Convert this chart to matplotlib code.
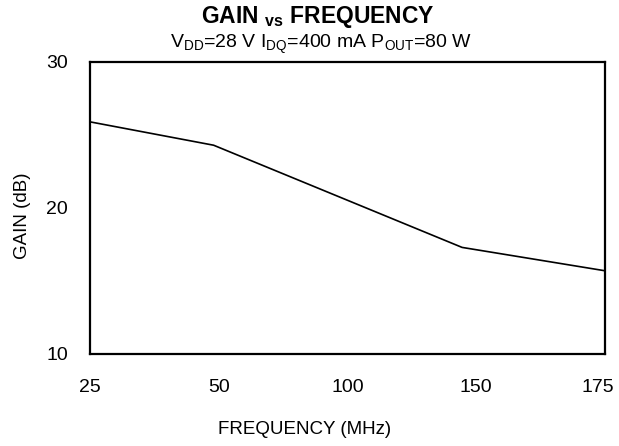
import matplotlib
matplotlib.use("Agg")
import matplotlib.pyplot as plt
from matplotlib.transforms import ScaledTranslation

plt.rcParams['font.family'] = ['Liberation Sans', 'DejaVu Sans']
plt.rcParams['mathtext.fontset'] = 'custom'
plt.rcParams['mathtext.rm'] = 'Liberation Sans'
plt.rcParams['mathtext.bf'] = 'Liberation Sans:bold'
plt.rcParams['mathtext.it'] = 'Liberation Sans:italic'

freq_labels = ['25', '50', '100', '150', '175']
# positions of the measured points on the (evenly spaced) frequency axis
point_pos = [0, 0.96, 2.89, 4]
gain_db = [25.9, 24.3, 17.3, 15.7]

fig = plt.figure(figsize=(6.19, 4.46), dpi=100)
ax = fig.add_axes([0.1454, 0.2063, 0.832, 0.6547])
ax.plot(point_pos, gain_db, color='black', lw=1.2)
ax.set_xlim(0, 4)
ax.set_ylim(10, 30)
ax.set_xticks(range(len(freq_labels)))
ax.set_xticklabels(freq_labels)
ax.set_yticks([10, 20, 30])
ax.tick_params(length=0, labelsize=14)
ax.tick_params(axis='x', pad=18)
ax.tick_params(axis='y', pad=16)
for s in ax.spines.values():
    s.set_linewidth(1.6)

last = ax.get_xticklabels()[-1]
last.set_transform(last.get_transform() + ScaledTranslation(-7/100, 0, fig.dpi_scale_trans))

ax.set_xlabel('FREQUENCY (MHz)', fontsize=13.5)
ax.xaxis.set_label_coords(0.417, -0.229)
ax.set_ylabel('GAIN (dB)', fontsize=13.5)
ax.yaxis.set_label_coords(-0.115, 0.4726)

fig.text(0.514, 0.948, r'$\mathbf{GAIN\ _{vs}\ FREQUENCY}$', ha='center', va='baseline', fontsize=16.5)
fig.text(0.519, 0.892, r'$\mathregular{V_{DD}}$=28 V $\mathregular{I_{DQ}}$=400 mA $\mathregular{P_{OUT}}$=80 W',
         ha='center', va='baseline', fontsize=14)

fig.savefig('out.png', dpi=100)
